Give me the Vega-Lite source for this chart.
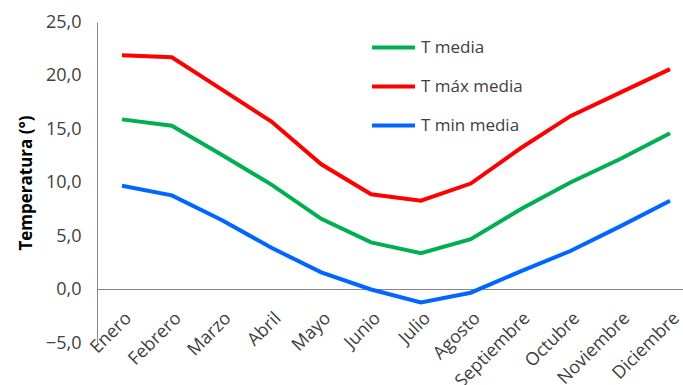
{
  "$schema": "https://vega.github.io/schema/vega-lite/v6.json",
  "autosize": {"type": "none"},
  "width": 586,
  "height": 321,
  "padding": {"left": 97, "top": 22, "right": 0, "bottom": 42},
  "background": "white",
  "config": {
    "view": {"stroke": null},
    "font": "Open Sans",
    "axis": {"labelFont": "Open Sans", "labelColor": "#404040", "grid": false, "ticks": false}
  },
  "data": {
    "values": [
      {"mes": "Enero", "serie": "T media", "t": 15.9},
      {"mes": "Febrero", "serie": "T media", "t": 15.3},
      {"mes": "Marzo", "serie": "T media", "t": 12.6},
      {"mes": "Abril", "serie": "T media", "t": 9.8},
      {"mes": "Mayo", "serie": "T media", "t": 6.6},
      {"mes": "Junio", "serie": "T media", "t": 4.4},
      {"mes": "Julio", "serie": "T media", "t": 3.4},
      {"mes": "Agosto", "serie": "T media", "t": 4.7},
      {"mes": "Septiembre", "serie": "T media", "t": 7.5},
      {"mes": "Octubre", "serie": "T media", "t": 10.0},
      {"mes": "Noviembre", "serie": "T media", "t": 12.2},
      {"mes": "Diciembre", "serie": "T media", "t": 14.6},
      {"mes": "Enero", "serie": "T máx media", "t": 21.9},
      {"mes": "Febrero", "serie": "T máx media", "t": 21.7},
      {"mes": "Marzo", "serie": "T máx media", "t": 18.7},
      {"mes": "Abril", "serie": "T máx media", "t": 15.7},
      {"mes": "Mayo", "serie": "T máx media", "t": 11.7},
      {"mes": "Junio", "serie": "T máx media", "t": 8.9},
      {"mes": "Julio", "serie": "T máx media", "t": 8.3},
      {"mes": "Agosto", "serie": "T máx media", "t": 9.9},
      {"mes": "Septiembre", "serie": "T máx media", "t": 13.2},
      {"mes": "Octubre", "serie": "T máx media", "t": 16.2},
      {"mes": "Noviembre", "serie": "T máx media", "t": 18.4},
      {"mes": "Diciembre", "serie": "T máx media", "t": 20.6},
      {"mes": "Enero", "serie": "T min media", "t": 9.7},
      {"mes": "Febrero", "serie": "T min media", "t": 8.8},
      {"mes": "Marzo", "serie": "T min media", "t": 6.5},
      {"mes": "Abril", "serie": "T min media", "t": 3.9},
      {"mes": "Mayo", "serie": "T min media", "t": 1.6},
      {"mes": "Junio", "serie": "T min media", "t": 0.0},
      {"mes": "Julio", "serie": "T min media", "t": -1.2},
      {"mes": "Agosto", "serie": "T min media", "t": -0.3},
      {"mes": "Septiembre", "serie": "T min media", "t": 1.7},
      {"mes": "Octubre", "serie": "T min media", "t": 3.6},
      {"mes": "Noviembre", "serie": "T min media", "t": 5.9},
      {"mes": "Diciembre", "serie": "T min media", "t": 8.3}
    ]
  },
  "layer": [
    {
      "mark": {"type": "rule", "color": "#868686", "strokeWidth": 1},
      "encoding": {"y": {"datum": 0, "type": "quantitative"}}
    },
    {
      "mark": {"type": "line", "strokeWidth": 4},
      "encoding": {
        "x": {
          "field": "mes", "type": "ordinal", "sort": null,
          "scale": {"type": "point", "range": [25, 573], "padding": 0},
          "axis": {
            "title": null, "domain": false, "offset": -53,
            "labelAngle": -45, "labelAlign": "right", "labelBaseline": "top",
            "labelFontSize": 18, "labelPadding": 19, "labelDx": -7
          }
        },
        "y": {
          "field": "t", "type": "quantitative",
          "scale": {"domain": [-5, 25], "nice": false, "zero": false},
          "axis": {
            "title": "Temperatura (°)", "titleFontSize": 17, "titleFontWeight": "bold",
            "titleColor": "#000000", "titleFont": "Open Sans", "titlePadding": 10,
            "values": [-5, 0, 5, 10, 15, 20, 25], "format": ".1f",
            "labelExpr": "replace(format(datum.value, '.1f'), '.', ',')",
            "labelFontSize": 18, "labelPadding": 16,
            "domainColor": "#868686", "domainWidth": 1
          }
        },
        "color": {
          "field": "serie", "type": "nominal",
          "scale": {"domain": ["T media", "T máx media", "T min media"], "range": ["#00B050", "#FF0000", "#0066FF"]},
          "legend": {
            "title": null, "orient": "none", "legendX": 273, "legendY": 2,
            "symbolType": "stroke", "symbolSize": 1849, "symbolStrokeWidth": 4,
            "labelFontSize": 17, "labelColor": "#404040", "labelFont": "Open Sans",
            "rowPadding": 7, "labelOffset": 4
          }
        }
      }
    }
  ]
}
